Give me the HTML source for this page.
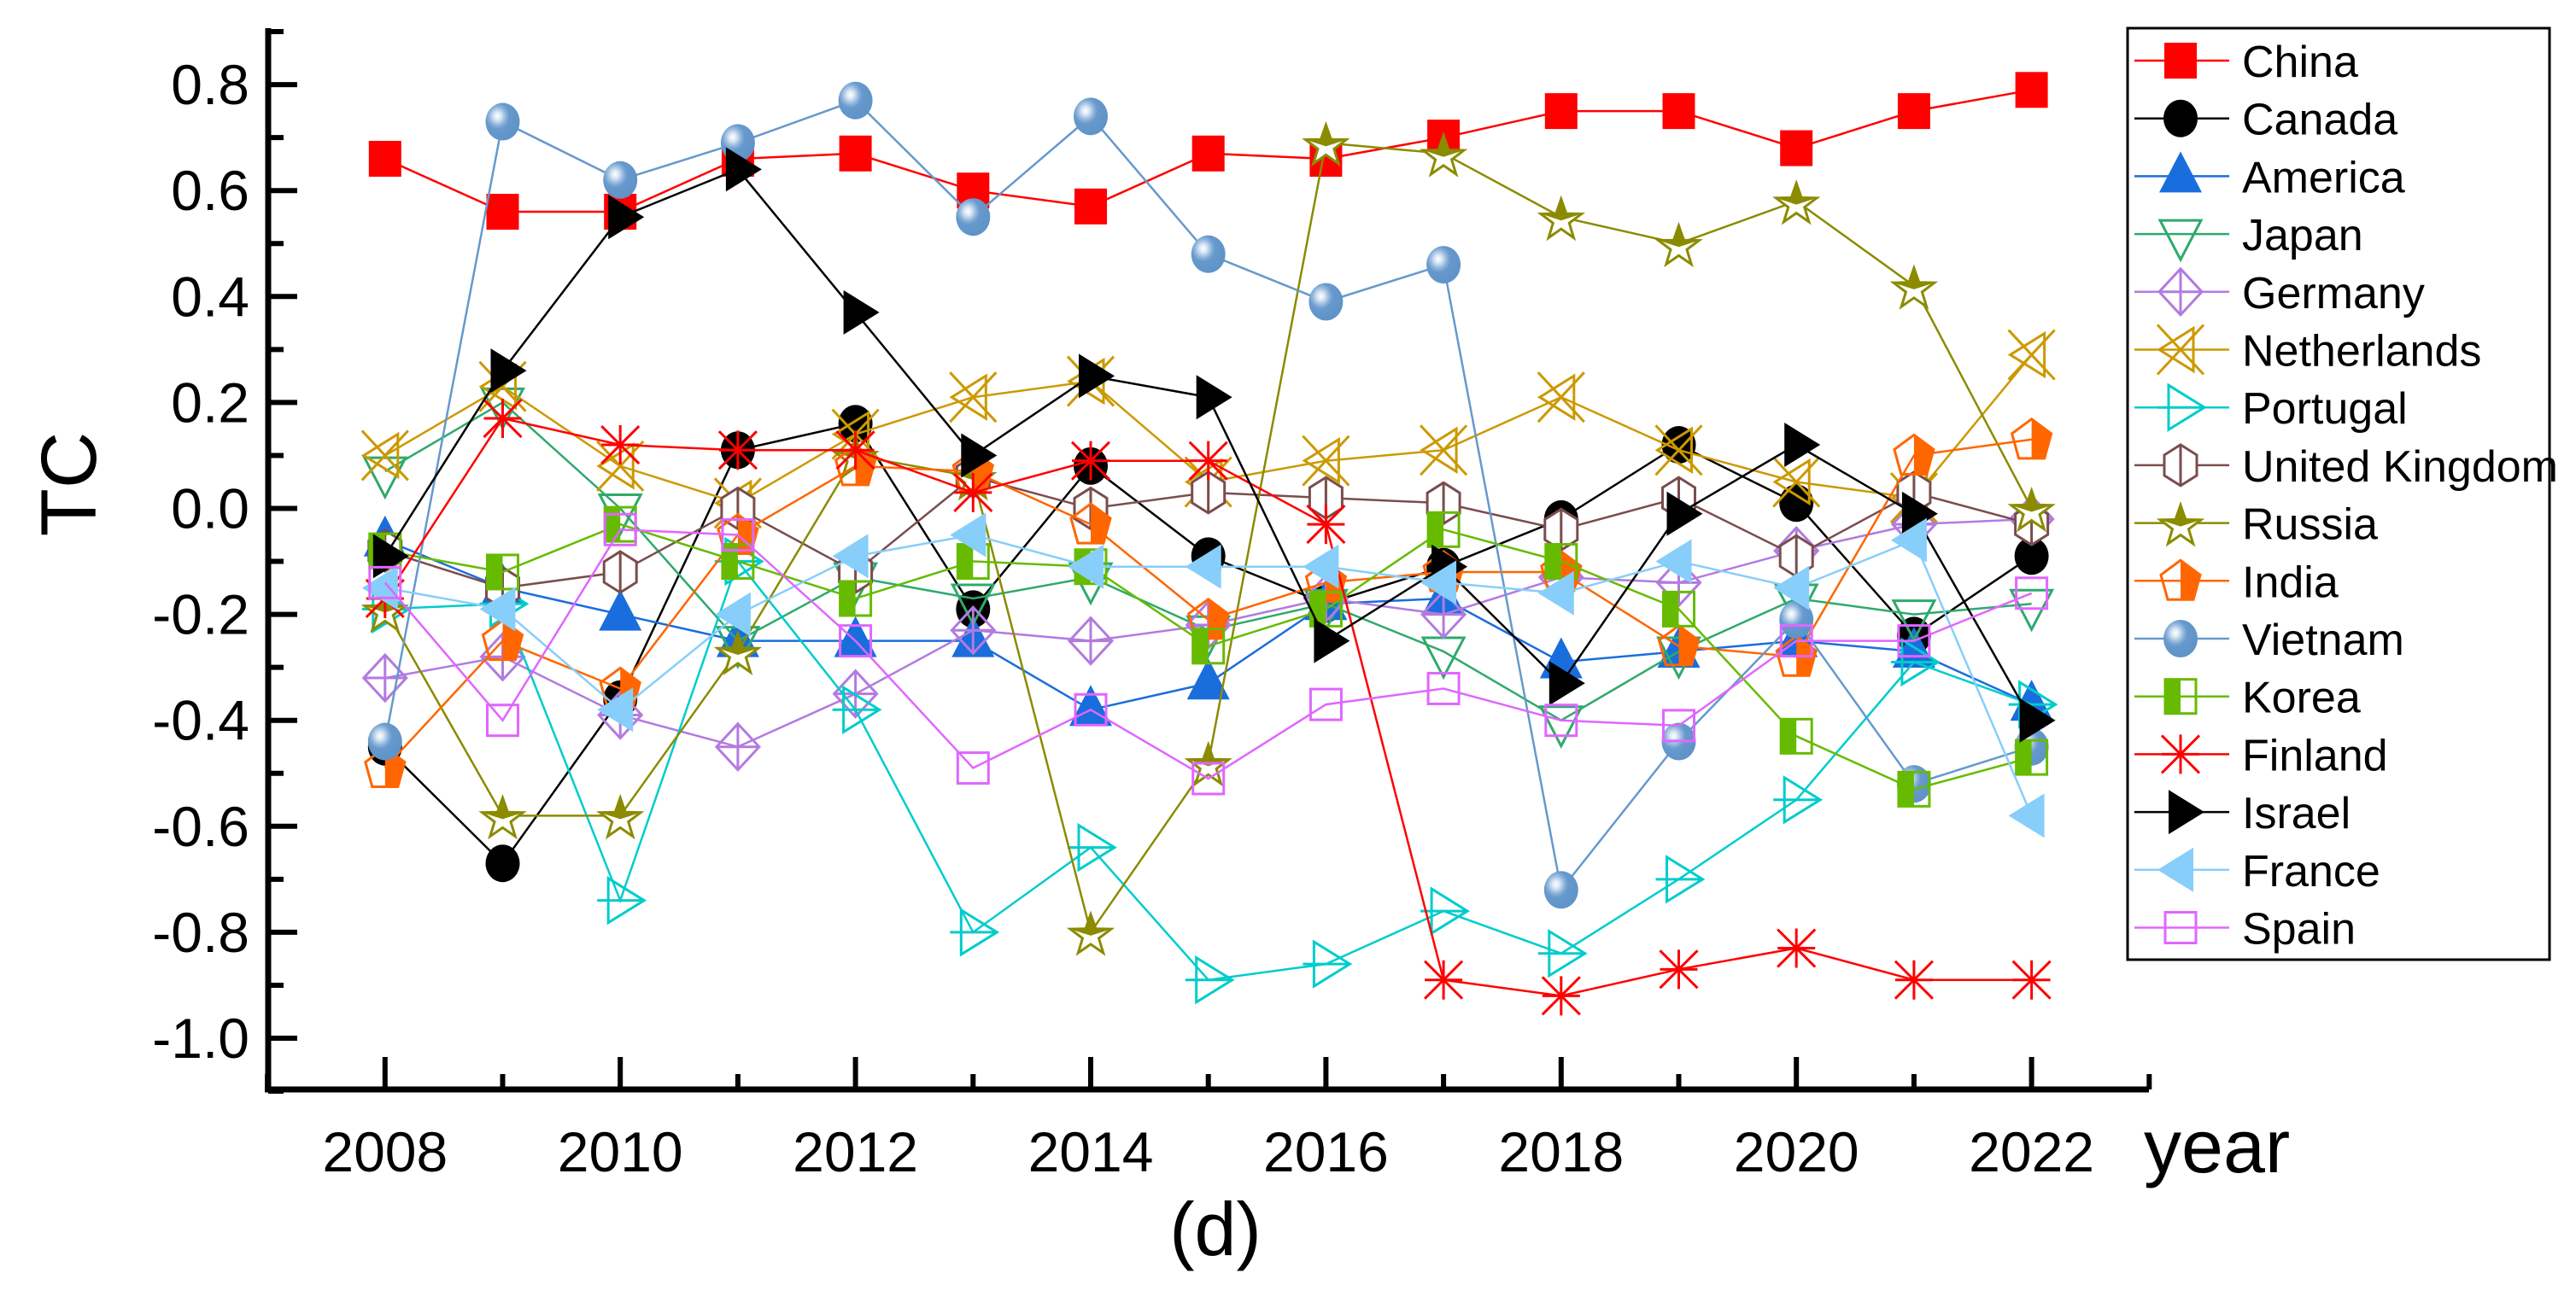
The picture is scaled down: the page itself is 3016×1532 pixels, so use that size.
<!DOCTYPE html>
<html><head><meta charset="utf-8"><style>
html,body{margin:0;padding:0;background:#fff;}
svg{display:block;font-family:"Liberation Sans",Arial,sans-serif;}
</style></head><body>
<svg id="chart" width="3016" height="1532" viewBox="0 0 3016 1532" xmlns="http://www.w3.org/2000/svg">
<defs>
<radialGradient id="ball" cx="0.35" cy="0.35" r="0.7">
<stop offset="0" stop-color="#ffffff"/><stop offset="0.15" stop-color="#dbe8f5"/><stop offset="0.35" stop-color="#8fb4dc"/><stop offset="0.5" stop-color="#6699cc"/><stop offset="1" stop-color="#5e93c8"/>
</radialGradient>
</defs>
<g id="plot"></g>
<g id="axes"></g>
<g id="legend"></g>
</svg>
<script>
const years = [2008,2009,2010,2011,2012,2013,2014,2015,2016,2017,2018,2019,2020,2021,2022];
const names = ["China","Canada","America","Japan","Germany","Netherlands","Portugal","United Kingdom","Russia","India","Vietnam","Korea","Finland","Israel","France","Spain"];
const chinaVals = [0.66,0.56,0.56,0.66,0.67,0.60,0.57,0.67,0.66,0.70,0.75,0.75,0.68,0.75,0.79];
const canadaVals = [-0.45,-0.67,-0.36,0.11,0.16,-0.19,0.08,-0.09,-0.18,-0.11,-0.02,0.12,0.01,-0.24,-0.09];
const americaVals = [-0.06,-0.15,-0.20,-0.25,-0.25,-0.25,-0.38,-0.33,-0.18,-0.17,-0.29,-0.27,-0.25,-0.27,-0.37];
const japanVals = [0.07,0.20,0.00,-0.25,-0.13,-0.17,-0.13,-0.23,-0.18,-0.27,-0.40,-0.27,-0.17,-0.20,-0.18];
const germanyVals = [-0.32,-0.28,-0.39,-0.45,-0.35,-0.23,-0.25,-0.22,-0.17,-0.20,-0.13,-0.14,-0.08,-0.03,-0.02];
const netherlandsVals = [0.10,0.23,0.08,0.01,0.14,0.21,0.24,0.05,0.09,0.11,0.21,0.11,0.05,0.02,0.29];
const portugalVals = [-0.19,-0.18,-0.74,-0.10,-0.38,-0.80,-0.64,-0.89,-0.86,-0.76,-0.84,-0.70,-0.55,-0.29,-0.37];
const ukVals = [-0.08,-0.15,-0.12,0.00,-0.12,0.06,0.00,0.03,0.02,0.01,-0.04,0.02,-0.09,0.03,-0.03];
const russiaVals = [-0.19,-0.58,-0.58,-0.27,0.10,0.06,-0.80,-0.48,0.69,0.67,0.55,0.50,0.58,0.42,0.00];
const indiaVals = [-0.49,-0.25,-0.34,-0.05,0.08,0.07,-0.03,-0.21,-0.14,-0.12,-0.12,-0.26,-0.28,0.10,0.13];
const vietnamVals = [-0.44,0.73,0.62,0.69,0.77,0.55,0.74,0.48,0.39,0.46,-0.72,-0.44,-0.21,-0.52,-0.45];
const koreaVals = [-0.08,-0.12,-0.03,-0.10,-0.17,-0.10,-0.11,-0.26,-0.19,-0.04,-0.10,-0.19,-0.43,-0.53,-0.47];
const finlandVals = [-0.17,0.17,0.12,0.11,0.11,0.03,0.09,0.09,-0.03,-0.89,-0.92,-0.87,-0.83,-0.89,-0.89];
const israelVals = [-0.09,0.26,0.55,0.64,0.37,0.10,0.25,0.21,-0.25,-0.11,-0.33,-0.01,0.12,-0.01,-0.40];
const franceVals = [-0.15,-0.19,-0.38,-0.20,-0.09,-0.05,-0.11,-0.11,-0.11,-0.14,-0.16,-0.10,-0.15,-0.06,-0.58];
const spainVals = [-0.14,-0.40,-0.04,-0.05,-0.25,-0.49,-0.38,-0.51,-0.37,-0.34,-0.40,-0.41,-0.25,-0.25,-0.16];
const yTicks = [0.8,0.6,0.4,0.2,0.0,-0.2,-0.4,-0.6,-0.8,-1.0];
const yTickLabels = ["0.8","0.6","0.4","0.2","0.0","-0.2","-0.4","-0.6","-0.8","-1.0"];
const xTicks = [2008,2010,2012,2014,2016,2018,2020,2022];

const allVals = [chinaVals,canadaVals,americaVals,japanVals,germanyVals,netherlandsVals,portugalVals,ukVals,russiaVals,indiaVals,vietnamVals,koreaVals,finlandVals,israelVals,franceVals,spainVals];
const colors = ["#ff0000","#000000","#1a6ddd","#2eaa6c","#b27be0","#cc9900","#00cccc","#7a4d4d","#8b8b00","#ff6600","#6699cc","#66bb00","#ff0000","#000000","#87cefa","#e066ff"];
const markers = ["square","circle","triUp","triDown","diamond","xtri","triRight","hex","star","penta","ball","halfSq","aster","triRightF","triLeft","sqOpen"];

const NS="http://www.w3.org/2000/svg";
function X(yr){return 450.8+(yr-2008)*137.7;}
function Y(v){return 595.5-v*620.5;}
function mk(tag,attrs,parent){const e=document.createElementNS(NS,tag);for(const k in attrs)e.setAttribute(k,attrs[k]);parent.appendChild(e);return e;}

function drawMarker(type,cx,cy,col,g){
  let e;
  const sw=3;
  switch(type){
    case "square": e=mk("rect",{x:cx-19,y:cy-21,width:38,height:42,fill:col},g);break;
    case "circle": e=mk("ellipse",{cx:cx,cy:cy,rx:20,ry:22,fill:col},g);break;
    case "triUp": e=mk("polygon",{points:`${cx},${cy-29} ${cx+25},${cy+19} ${cx-25},${cy+19}`,fill:col},g);break;
    case "triDown": e=mk("polygon",{points:`${cx-24},${cy-16} ${cx+24},${cy-16} ${cx},${cy+30}`,fill:"none",stroke:col,"stroke-width":sw},g);break;
    case "diamond": e=mk("path",{d:`M${cx},${cy-27}L${cx+25},${cy}L${cx},${cy+27}L${cx-25},${cy}Z M${cx},${cy-27}V${cy+27} M${cx-25},${cy}H${cx+25}`,fill:"none",stroke:col,"stroke-width":sw},g);break;
    case "xtri": e=mk("path",{d:`M${cx-27},${cy-29}L${cx+27},${cy+29} M${cx+27},${cy-29}L${cx-27},${cy+29} M${cx+15},${cy-25}V${cy+25}L${cx-25},${cy}Z`,fill:"none",stroke:col,"stroke-width":sw},g);break;
    case "triRight": e=mk("path",{d:`M${cx-14},${cy-26}L${cx+28},${cy}L${cx-14},${cy+26}Z M${cx-27},${cy}H${cx+28}`,fill:"none",stroke:col,"stroke-width":sw},g);break;
    case "hex": e=mk("path",{d:`M${cx},${cy-24}L${cx+19},${cy-12}L${cx+19},${cy+12}L${cx},${cy+24}L${cx-19},${cy+12}L${cx-19},${cy-12}Z M${cx},${cy-24}V${cy+24}`,fill:"#fff",stroke:col,"stroke-width":sw},g);break;
    case "star": {
      const top=[];for(let i=0;i<10;i++){const a=-Math.PI/2+i*Math.PI/5;const rr=i%2?10:25;top.push([(cx+rr*Math.cos(a)).toFixed(1),(cy+4+rr*Math.sin(a)).toFixed(1)]);}
      mk("polygon",{points:top.map(p=>p.join(",")).join(" "),fill:"#fff",stroke:col,"stroke-width":sw},g);
      e=mk("polygon",{points:`${top[0]} ${top[1]} ${top[2]} ${cx},${cy+4} ${top[8]} ${top[9]}`,fill:col},g);
      break;}
    case "penta": {
      const p=[[cx,cy-24],[cx+23,cy-7],[cx+15,cy+22],[cx-15,cy+22],[cx-23,cy-7]];
      mk("polygon",{points:`${cx},${cy-24} ${p[1]} ${p[2]} ${cx},${cy+22}`,fill:col},g);
      e=mk("polygon",{points:p.join(" "),fill:"none",stroke:col,"stroke-width":sw},g);break;}
    case "ball": e=mk("ellipse",{cx:cx,cy:cy,rx:20,ry:22,fill:"url(#ball)"},g);break;
    case "halfSq": mk("rect",{x:cx-18,y:cy-20,width:18,height:40,fill:col},g);
      e=mk("rect",{x:cx-18,y:cy-20,width:36,height:40,fill:"none",stroke:col,"stroke-width":sw},g);break;
    case "aster": e=mk("path",{d:`M${cx},${cy-23}V${cy+23} M${cx-22},${cy}H${cx+22} M${cx-22},${cy-22}L${cx+22},${cy+22} M${cx+22},${cy-22}L${cx-22},${cy+22}`,fill:"none",stroke:col,"stroke-width":sw},g);break;
    case "triRightF": e=mk("polygon",{points:`${cx-14},${cy-26} ${cx+28},${cy} ${cx-14},${cy+26}`,fill:col},g);break;
    case "triLeft": e=mk("polygon",{points:`${cx+15},${cy-26} ${cx-27},${cy} ${cx+15},${cy+26}`,fill:col},g);break;
    case "sqOpen": e=mk("rect",{x:cx-18,y:cy-18,width:36,height:36,fill:"none",stroke:col,"stroke-width":sw},g);break;
  }
  return e;
}

const plot=document.getElementById("plot");
allVals.forEach((vals,si)=>{
  const g=mk("g",{},plot);
  
  
  const pts=vals.map((v,i)=>X(years[i]).toFixed(1)+","+Y(v).toFixed(1)).join(" ");
  const ln=mk("polyline",{points:pts,fill:"none",stroke:colors[si],"stroke-width":2.5},g);
  
  
  vals.forEach((v,i)=>{
    const mg=mk("g",{},g);
    
    
    drawMarker(markers[si],X(years[i]),Y(v),colors[si],mg);
  });
});

const axes=document.getElementById("axes");
const yax=mk("line",{x1:314,y1:33,x2:314,y2:1279,stroke:"#000","stroke-width":7},axes);

const xax=mk("line",{x1:310,y1:1276,x2:2516,y2:1276,stroke:"#000","stroke-width":7},axes);

yTicks.forEach((v,i)=>{
  const t=mk("line",{x1:314,y1:Y(v),x2:348,y2:Y(v),stroke:"#000","stroke-width":6},axes);
  
  const h=mk("line",{x1:314,y1:Y(v-0.1),x2:332,y2:Y(v-0.1),stroke:"#000","stroke-width":6},axes);
  
  const tx=mk("text",{x:292,y:Y(v)+23,"text-anchor":"end","font-size":66,fill:"#000"},axes);
  tx.textContent=yTickLabels[i];
  
});
const topMinor=mk("line",{x1:314,y1:Y(0.9),x2:332,y2:Y(0.9),stroke:"#000","stroke-width":6},axes);

xTicks.forEach(yr=>{
  const t=mk("line",{x1:X(yr),y1:1276,x2:X(yr),y2:1238,stroke:"#000","stroke-width":6},axes);
  
  const tx=mk("text",{x:X(yr),y:1372,"text-anchor":"middle","font-size":66,fill:"#000"},axes);
  tx.textContent=String(yr);
  
});
years.forEach(yr=>{ if(yr%2===1){
  const t=mk("line",{x1:X(yr),y1:1276,x2:X(yr),y2:1258,stroke:"#000","stroke-width":6},axes);
  }});
[2007,2023].forEach(yr=>{
  const t=mk("line",{x1:X(yr),y1:1276,x2:X(yr),y2:1258,stroke:"#000","stroke-width":6},axes);
  });
const yt=mk("text",{x:0,y:0,"text-anchor":"middle","font-size":92,fill:"#000",transform:"translate(112,567) rotate(-90)"},axes);
yt.textContent="TC";
const xt=mk("text",{x:2510,y:1373,"font-size":88,fill:"#000"},axes);
xt.textContent="year";
const cap=mk("text",{x:1423,y:1470,"text-anchor":"middle","font-size":88,fill:"#000"},axes);
cap.textContent="(d)";

const lg=document.getElementById("legend");
const box=mk("rect",{x:2491,y:33,width:494,height:1091,fill:"#fff",stroke:"#000","stroke-width":3},lg);

names.forEach((n,i)=>{
  const cy=71+i*67.7;
  const g=mk("g",{},lg);
  
  
  mk("line",{x1:2499,y1:cy,x2:2610,y2:cy,stroke:colors[i],"stroke-width":2.5},g);
  drawMarker(markers[i],2553,cy,colors[i],g);
  const t=mk("text",{x:2625,y:cy+19,"font-size":52,fill:"#000"},g);
  t.textContent=n;
});
</script>
</body></html>
